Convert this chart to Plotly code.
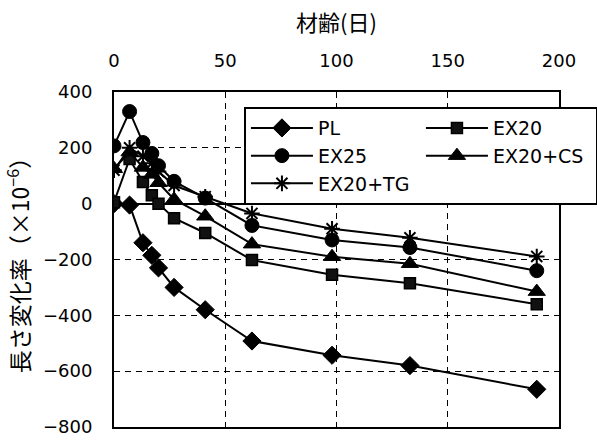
import plotly.graph_objects as go

# ---- data ----
days = [0, 7, 13, 17, 20, 27, 41, 62, 98, 133, 190]
pl = [0, -5, -140, -185, -230, -300, -380, -492, -543, -580, -665]
ex20 = [5, 160, 78, 30, 0, -52, -105, -202, -255, -285, -360]
ex25 = [207, 330, 219, 180, 136, 80, 20, -78, -130, -157, -240]
ex20cs = [125, 185, 130, 105, 75, 15, -45, -145, -190, -215, -315]
ex20tg = [120, 200, 170, 145, 115, 65, 25, -35, -90, -122, -189]

series_names = ["PL", "EX20", "EX25", "EX20+CS", "EX20+TG"]
x_ticks = [0, 50, 100, 150, 200]
y_ticks = [-800, -600, -400, -200, 0, 200, 400]

FONT = "DejaVu Sans, Noto Sans CJK JP, sans-serif"
CJK = "Noto Sans CJK JP, sans-serif"

styles = {
    "PL": dict(symbol="diamond", size=14, color="black", line=dict(color="black", width=1)),
    "EX20": dict(symbol="square", size=11, color="#111", line=dict(color="black", width=1.5)),
    "EX25": dict(symbol="circle", size=14, color="black", line=dict(color="black", width=1)),
    "EX20+CS": dict(symbol="triangle-up", size=15, color="black", line=dict(color="black", width=1)),
    "EX20+TG": dict(symbol="asterisk-open", size=13, color="black", line=dict(color="black", width=2)),
}
values = {"PL": pl, "EX20": ex20, "EX25": ex25, "EX20+CS": ex20cs, "EX20+TG": ex20tg}

fig = go.Figure()
for name in series_names:
    fig.add_trace(go.Scatter(
        x=days, y=values[name], name=name, mode="lines+markers",
        line=dict(color="black", width=2),
        marker=styles[name],
    ))

fig.update_layout(
    width=597, height=441,
    margin=dict(l=114, r=38, t=92, b=14, autoexpand=False),
    paper_bgcolor="white", plot_bgcolor="white",
    font=dict(family=FONT, size=18, color="black"),
    showlegend=True,
    legend=dict(
        orientation="h", x=0.292, y=0.955, xanchor="left", yanchor="top",
        bgcolor="white", bordercolor="black", borderwidth=2,
        font=dict(family=FONT, size=19, color="black"),
        itemwidth=62, entrywidth=98, entrywidthmode="pixels",
        traceorder="normal",
    ),
    xaxis=dict(
        side="top", range=[0, 200], tickvals=x_ticks,
        showgrid=True, gridcolor="black", gridwidth=1.3, griddash="6px,5px",
        showline=True, linecolor="black", linewidth=2, mirror=True,
        zeroline=False, ticks="", ticklabelstandoff=16,
        title=dict(text="材齢(日)", font=dict(family=CJK, size=22), standoff=12),
    ),
    yaxis=dict(
        range=[-800, 400], tickvals=y_ticks,
        showgrid=True, gridcolor="black", gridwidth=1.3, griddash="6px,5px",
        showline=True, linecolor="black", linewidth=2, mirror=True,
        zeroline=True, zerolinecolor="black", zerolinewidth=1.5,
        ticks="", ticklabelstandoff=16,
        title=dict(text="長さ変化率（×10<sup>−6</sup>）", font=dict(family=CJK, size=23), standoff=10),
    ),
)

fig.write_html("out.html")
